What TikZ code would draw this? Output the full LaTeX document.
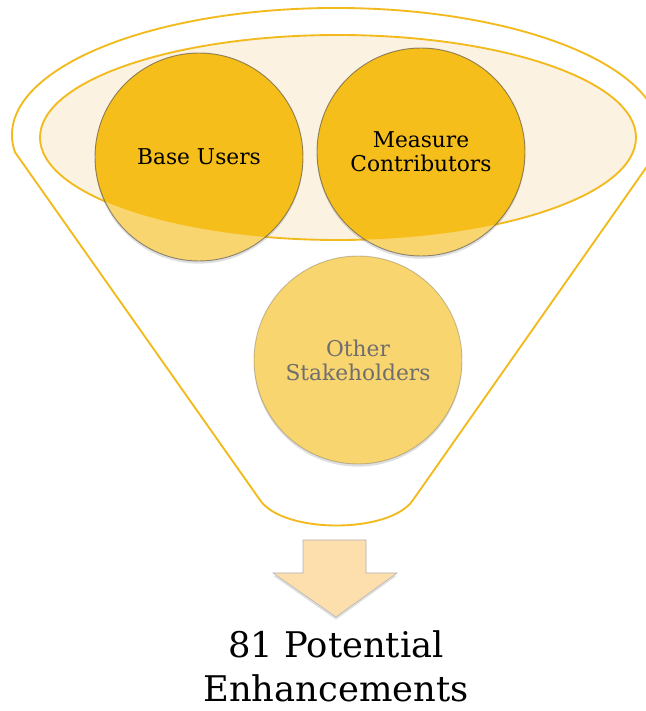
\documentclass[tikz,border=0pt]{standalone}
\usepackage{fontspec}
\setmainfont{DejaVu Serif}
\usetikzlibrary{shadows}
\definecolor{funnelgold}{RGB}{242,186,28}
\definecolor{deepgold}{RGB}{245,190,26}
\definecolor{palegold}{RGB}{249,213,111}
\definecolor{cream}{RGB}{252,242,226}
\definecolor{peach}{RGB}{253,222,173}
\definecolor{greytext}{RGB}{110,110,110}

\begin{document}
\begin{tikzpicture}[x=0.75pt,y=0.75pt,
    disc/.style={circle,minimum size=156pt,inner sep=0pt,fill=palegold,
        drop shadow={shadow xshift=0pt,shadow yshift=-2pt,opacity=.25}},
    ring/.style={circle,minimum size=156pt,inner sep=0pt,draw=black!70,draw opacity=.6,
        line width=.7pt,align=center,font=\fontsize{16.3}{18}\selectfont},
    rim/.style={draw=funnelgold,line width=1.4pt},
    outcome/.style={font=\fontsize{26.5}{33.75}\selectfont,anchor=base,inner sep=0pt}]
    \useasboundingbox (0,0) rectangle (646,711);
    % funnel outline
    \draw[rim] (15,558.8) arc[start angle=187.8,end angle=-7.8,x radius=324,y radius=127]
        -- (413,211) .. controls (390,177) and (283,177) .. (260,211) -- cycle;
    \path[rim,fill=cream] (338,573.5) ellipse[x radius=298,y radius=102.5];
    % groups
    \node[disc] (bu) at (199,554) {};
    \node[disc] (mc) at (421,559) {};
    \node[disc] (os) at (358,351) {};
    \begin{scope}
        \clip (338,573.5) ellipse[x radius=298,y radius=102.5];
        \fill[deepgold] (bu.center) circle[radius=104] (mc.center) circle[radius=104];
    \end{scope}
    \node[ring] (bu-text) at (bu) {Base Users};
    \node[ring] (mc-text) at (mc) {Measure\\Contributors};
    \node[ring,text=greytext,draw opacity=.3] (os-text) at (os) {Other\\Stakeholders};
    % result
    \draw[draw=black!30,fill=peach,drop shadow={shadow xshift=0pt,shadow yshift=-2pt,opacity=.25}]
        (303,171) -- (366,171) -- (366,138) -- (397,138) -- (336,94) -- (273,138) -- (303,138) -- cycle;
    \node[outcome] (result-top) at (336,53) {81 Potential};
    \node[outcome] (result-bottom) at (336,9) {Enhancements};
\end{tikzpicture}
\end{document}
